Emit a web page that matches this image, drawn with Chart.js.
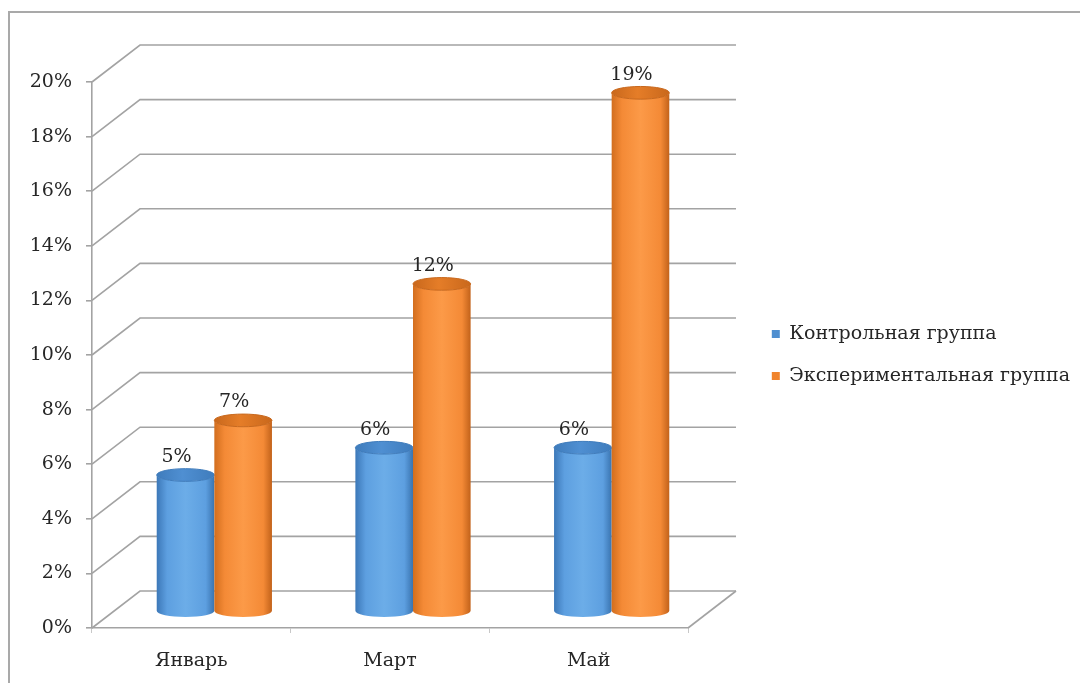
<!DOCTYPE html>
<html>
<head>
<meta charset="utf-8">
<script src="https://cdn.jsdelivr.net/npm/chart.js@4/dist/chart.umd.min.js"></script>
<style>
  html, body { margin: 0; padding: 0; background: #ffffff; overflow: hidden; }
  canvas { display: block; }
</style>
</head>
<body>
<canvas id="chart" width="1080" height="683"></canvas>
<script>
// Months on the category axis
const months = ['Январь', 'Март', 'Май'];
// Share of students per group, percent
const controlGroup = [5, 6, 6];
const experimentalGroup = [7, 12, 19];
const seriesNames = ['Контрольная группа', 'Экспериментальная группа'];
// Value axis: 0% … 20% in steps of 2%
const yMin = 0;
const yMax = 20;
const yStep = 2;

const FONT = 'DejaVu Serif';
const TEXT = '#262626';
const GRID = '#a3a3a3';
// Offset of the back wall relative to the front plane (perspective depth)
const DEPTH_X = 48;
const DEPTH_Y = -37;

const seriesColors = ['#4f8fd0', '#f0842c'];
const cylinderShades = [
  { edge: '#3c78b8', mid: '#5d9fe0', light: '#6cade8', dark: '#3a74b0', top: '#4f8fd2', rim: '#3f7cbc' },
  { edge: '#d26e1e', mid: '#f48a36', light: '#fc9a48', dark: '#c2621a', top: '#e57d28', rim: '#c9681c' }
];

function drawCylinder(ctx, cx, w, yTop, yBase, shade) {
  const rx = w / 2;
  const ry = Math.max(4, w * 0.11);
  const g = ctx.createLinearGradient(cx - rx, 0, cx + rx, 0);
  g.addColorStop(0, shade.edge);
  g.addColorStop(0.18, shade.mid);
  g.addColorStop(0.5, shade.light);
  g.addColorStop(0.85, shade.mid);
  g.addColorStop(1, shade.dark);
  ctx.save();
  ctx.beginPath();
  ctx.moveTo(cx - rx, yTop);
  ctx.lineTo(cx - rx, yBase);
  ctx.ellipse(cx, yBase, rx, ry, 0, Math.PI, 0, true);
  ctx.lineTo(cx + rx, yTop);
  ctx.ellipse(cx, yTop, rx, ry, 0, 0, Math.PI, false);
  ctx.closePath();
  ctx.fillStyle = g;
  ctx.fill();
  // top face
  const tg = ctx.createLinearGradient(cx - rx, 0, cx + rx, 0);
  tg.addColorStop(0, shade.rim);
  tg.addColorStop(0.45, shade.top);
  tg.addColorStop(1, shade.rim);
  ctx.beginPath();
  ctx.ellipse(cx, yTop, rx, ry, 0, 0, Math.PI * 2);
  ctx.fillStyle = tg;
  ctx.fill();
  ctx.lineWidth = 1;
  ctx.strokeStyle = shade.rim;
  ctx.stroke();
  ctx.restore();
}

const scene3d = {
  id: 'scene3d',
  beforeDraw(chart) {
    const ctx = chart.ctx;
    ctx.save();
    ctx.fillStyle = '#ffffff';
    ctx.fillRect(0, 0, chart.width, chart.height);
    // outer frame of the chart object
    ctx.strokeStyle = '#a9a9a9';
    ctx.lineWidth = 2;
    ctx.beginPath();
    ctx.moveTo(9, chart.height);
    ctx.lineTo(9, 12);
    ctx.lineTo(chart.width, 12);
    ctx.stroke();
    ctx.restore();
  },
  beforeDatasetsDraw(chart) {
    const ctx = chart.ctx;
    const { left, right, bottom } = chart.chartArea;
    const y = chart.scales.y;
    ctx.save();
    ctx.strokeStyle = GRID;
    ctx.lineWidth = 1.6;
    y.ticks.forEach(t => {
      const py = y.getPixelForValue(t.value);
      ctx.beginPath();
      ctx.moveTo(left, py);
      ctx.lineTo(left + DEPTH_X, py + DEPTH_Y);
      ctx.lineTo(right + DEPTH_X, py + DEPTH_Y);
      ctx.stroke();
    });
    // floor, right edge
    ctx.beginPath();
    ctx.moveTo(right, bottom);
    ctx.lineTo(right + DEPTH_X, bottom + DEPTH_Y);
    ctx.stroke();
    ctx.restore();
  },
  beforeDatasetDraw() {
    return false;
  },
  afterDatasetsDraw(chart) {
    const ctx = chart.ctx;
    const dx = DEPTH_X / 2 - 1;
    const dy = DEPTH_Y / 2 + 2;
    const metas = chart.data.datasets.map((d, i) => chart.getDatasetMeta(i));
    for (let j = 0; j < months.length; j++) {
      metas.forEach((meta, i) => {
        const bar = meta.data[j];
        const p = bar.getProps(['x', 'y', 'base', 'width'], true);
        drawCylinder(ctx, p.x + dx, p.width, p.y + dy, p.base + dy, cylinderShades[i]);
      });
    }
    ctx.save();
    ctx.font = `19px "${FONT}"`;
    ctx.fillStyle = TEXT;
    ctx.textAlign = 'center';
    ctx.textBaseline = 'middle';
    metas.forEach((meta, i) => {
      const values = chart.data.datasets[i].data;
      meta.data.forEach((bar, j) => {
        const p = bar.getProps(['x', 'y'], true);
        ctx.fillText(values[j] + '%', p.x + dx - 9, p.y + dy - 18);
      });
    });
    ctx.restore();
  }
};

const PAD_RIGHT = 0;
const PLOT_RIGHT = 688;

new Chart(document.getElementById('chart'), {
  type: 'bar',
  data: {
    labels: months,
    datasets: [
      { label: seriesNames[0], data: controlGroup, backgroundColor: seriesColors[0], yAxisID: 'y' },
      { label: seriesNames[1], data: experimentalGroup, backgroundColor: seriesColors[1], yAxisID: 'y' }
    ]
  },
  options: {
    responsive: false,
    animation: false,
    devicePixelRatio: 1,
    categoryPercentage: 0.58,
    barPercentage: 1.0,
    layout: { padding: { top: 82, bottom: 10, left: 0, right: PAD_RIGHT } },
    plugins: {
      tooltip: { enabled: false },
      legend: {
        position: 'right',
        fullSize: false,
        maxWidth: 420,
        labels: {
          font: { family: FONT, size: 19 },
          color: TEXT,
          boxWidth: 8,
          boxHeight: 8,
          padding: 23
        }
      }
    },
    scales: {
      x: {
        grid: { display: true, drawOnChartArea: false, tickLength: 5, color: '#c8c8c8', offset: true },
        border: { display: true, color: GRID, width: 1.6 },
        ticks: { font: { family: FONT, size: 19 }, color: TEXT, padding: 17, maxRotation: 0 },
        afterFit(scale) { scale.height = 45; }
      },
      y: {
        min: yMin,
        max: yMax,
        ticks: {
          stepSize: yStep,
          font: { family: FONT, size: 19 },
          color: TEXT,
          padding: 14,
          callback: v => v + '%'
        },
        grid: { display: true, drawOnChartArea: false, tickLength: 6, color: GRID, lineWidth: 1.6 },
        border: { display: true, color: GRID, width: 1.6 },
        afterFit(scale) { scale.width = 92; }
      },
      depth: {
        type: 'linear',
        position: 'right',
        display: true,
        grid: { display: false },
        border: { display: false },
        ticks: { display: false },
        afterFit(scale) {
          // room for the back wall between the front plane and the legend
          const c = scale.ctx;
          c.save();
          c.font = `19px "${FONT}"`;
          const tw = Math.max(...seriesNames.map(s => c.measureText(s).width));
          c.restore();
          const legendWidth = 23 + 8 + 19 / 2 + tw + 10;
          scale.width = Math.max(10, scale.chart.width - PAD_RIGHT - legendWidth - PLOT_RIGHT);
        }
      }
    }
  },
  plugins: [scene3d]
});
</script>
</body>
</html>
